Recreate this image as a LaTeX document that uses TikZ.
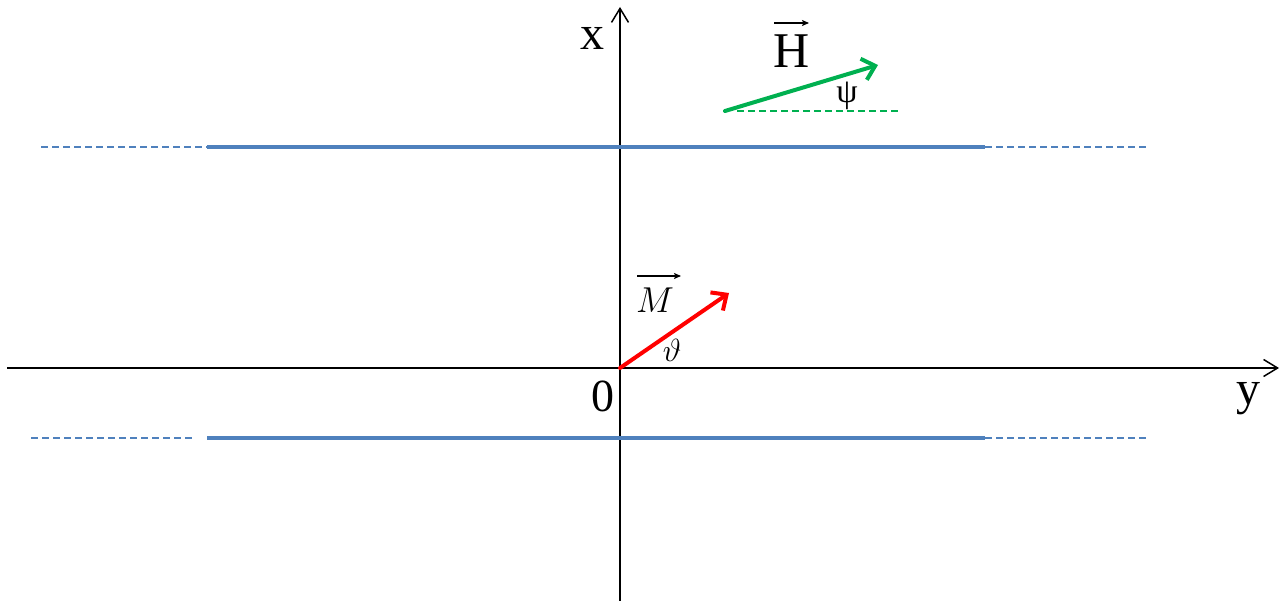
\RequirePackage{fix-cm}
\documentclass[tikz,border=0pt]{standalone}
\usepackage{fontspec}
\setmainfont{Liberation Serif}
\usetikzlibrary{arrows.meta}
\definecolor{blueline}{HTML}{4F81BD}
\definecolor{greenH}{HTML}{00B050}
\definecolor{redM}{HTML}{FF0000}
\begin{document}
\begin{tikzpicture}[x=1pt,y=-1pt,
  axis/.style={line width=1.5pt,-{Straight Barb[length=14pt,width=17pt,line width=1.5pt]}},
  wall/.style={blueline,line width=4pt},
  walldash/.style={blueline,line width=1.6pt,dash pattern=on 7pt off 4pt},
  vec/.style={line width=4pt,-{Straight Barb[length=12pt,width=22pt,line width=4pt]}},
  overarrow/.style={line width=1.1pt,-{Stealth[length=7pt,width=6pt,inset=1.5pt]}},
  lbl/.style={inner sep=0pt,anchor=base}]
\useasboundingbox (0,0) rectangle (1283,601);
% axes
\coordinate (xb) at (620,601);
\coordinate (xt) at (620,7);
\coordinate (yl) at (7,368);
\coordinate (yr) at (1279,368);
\coordinate (O) at (620,368);
\draw[axis] (yl) -- (yr);
\draw[axis] (xb) -- (xt);
% walls
\coordinate (t0) at (41,147);
\coordinate (t1) at (207,147);
\coordinate (t2) at (985,147);
\coordinate (t3) at (1148,147);
\coordinate (b0) at (31,438);
\coordinate (b0e) at (192,438);
\coordinate (b1) at (207,438);
\coordinate (b2) at (985,438);
\coordinate (b3) at (1148,438);
\draw[walldash] (t0) -- (t1);
\draw[walldash] (t2) -- (t3);
\draw[wall] (t1) -- (t2);
\draw[walldash] (b0) -- (b0e);
\draw[walldash] (b2) -- (b3);
\draw[wall] (b1) -- (b2);
% H vector
\coordinate (Hs) at (725,111);
\coordinate (He) at (878,65);
\coordinate (Hd0) at (737,111);
\coordinate (Hd1) at (900,111);
\draw[greenH,line width=1.2pt,dash pattern=on 7pt off 4pt] (Hd0) -- (Hd1);
\draw[vec,greenH,line cap=round] (Hs) -- (He);
% M vector
\coordinate (Me) at (729,293);
\draw[vec,redM,line cap=round] (O) -- (Me);
% labels
\node[lbl,font=\fontsize{48}{52}\selectfont] (xl) at (592,50) {x};
\node[lbl,font=\fontsize{48}{52}\selectfont] (ylab) at (1248,405) {y};
\node[lbl,font=\fontsize{46}{50}\selectfont] (zero) at (603,412) {0};
\node[lbl,font=\fontsize{50}{54}\selectfont] (Hl) at (792,68) {H};
\node[lbl,font=\fontsize{34}{38}\selectfont] (psi) at (847,103) {ψ};
\node[lbl,font=\fontsize{36}{40}\selectfont] (Ml) at (655,313) {$M$};
\node[lbl,font=\fontsize{32}{36}\selectfont] (th) at (672,362) {$\vartheta$};
% arrows over the vector names
\coordinate (Ha0) at (774,23);
\coordinate (Ha1) at (809,23);
\coordinate (Ma0) at (637,276);
\coordinate (Ma1) at (681,276);
\draw[overarrow] (Ha0) -- (Ha1);
\draw[overarrow] (Ma0) -- (Ma1);
\end{tikzpicture}
\end{document}
